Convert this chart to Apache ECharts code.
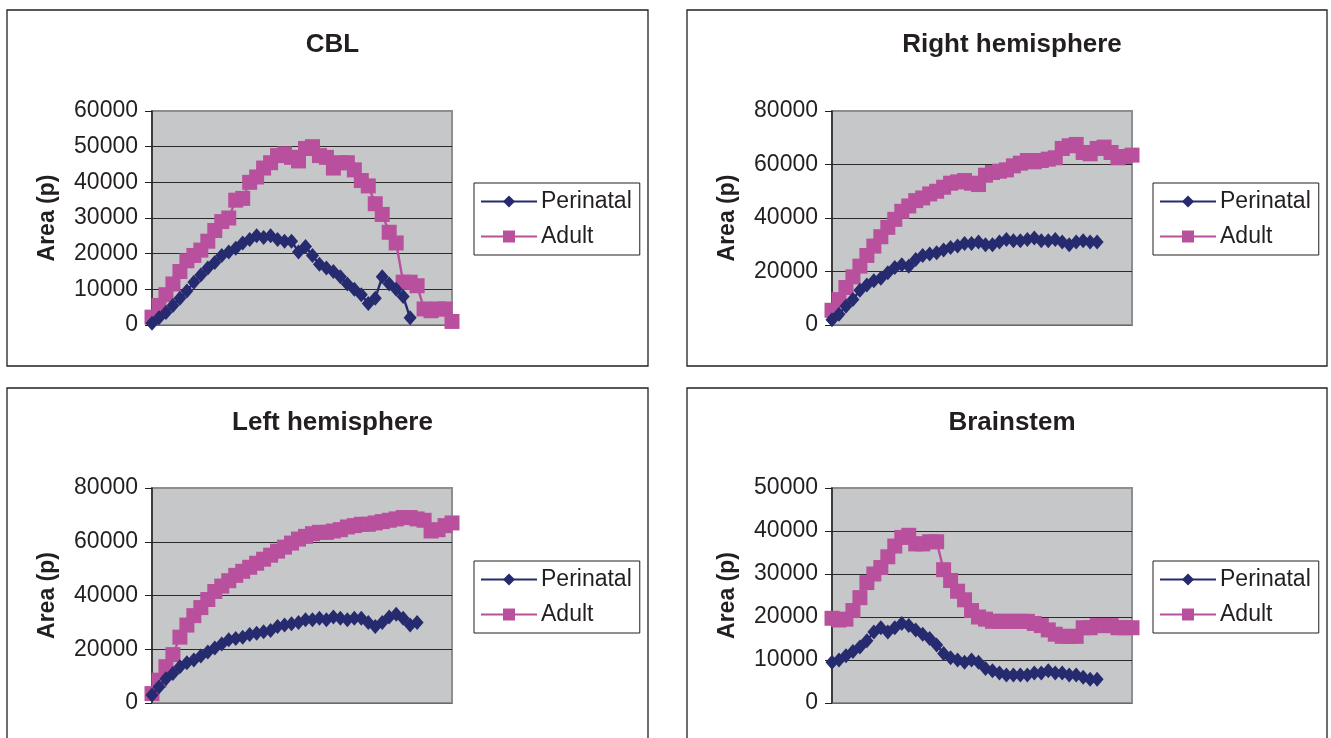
<!DOCTYPE html>
<html>
<head>
<meta charset="utf-8">
<script src="https://cdn.jsdelivr.net/npm/echarts@6/dist/echarts.min.js"></script>
<style>
  html, body { margin: 0; padding: 0; background: #ffffff; }
  #chart { width: 1331px; height: 738px; }
</style>
</head>
<body>
<div id="chart"></div>
<script>
// Slice index along each structure (category axis, labels hidden)
const slices = [1, 2, 3, 4, 5, 6, 7, 8, 9, 10, 11, 12, 13, 14, 15, 16, 17, 18, 19, 20, 21, 22,
  23, 24, 25, 26, 27, 28, 29, 30, 31, 32, 33, 34, 35, 36, 37, 38, 39, 40, 41, 42, 43, 44];

const seriesNames = ['Perinatal', 'Adult'];

// Area (pixels) per slice
const cblPerinatal = [500, 2000, 3500, 5500, 7500, 9500, 12000, 14000, 16000, 17500, 19500, 20500,
  21500, 23000, 24000, 25000, 24500, 25000, 24000, 23500, 23500, 20500, 22000, 19500, 17000, 16000,
  15000, 13500, 11500, 10000, 8500, 6000, 7500, 13500, 11500, 10000, 8000, 2000];
const cblAdult = [2200, 5500, 8500, 11500, 15000, 18000, 19500, 21000, 23500, 26500, 29000, 30000,
  35000, 35500, 40000, 41500, 44000, 45500, 47500, 48000, 47000, 46000, 49500, 50000, 47500, 47000,
  44000, 45500, 45500, 43500, 40500, 39000, 34000, 31000, 26000, 23000, 12000, 12000, 11000, 4500,
  4000, 4500, 4500, 1000];

const rightPerinatal = [2000, 4000, 7000, 9500, 13000, 15000, 16500, 17500, 19500, 21500, 22500,
  22000, 24500, 26000, 26500, 27000, 28000, 29000, 29500, 30500, 30500, 31000, 30000, 30000, 31000,
  32000, 31500, 31500, 32000, 32500, 31500, 31500, 32000, 31000, 30000, 31000, 31500, 31000, 31000];
const rightAdult = [5500, 9500, 14000, 18000, 22000, 26000, 29500, 33000, 36500, 39500, 42500,
  44500, 46500, 47500, 49000, 50000, 51500, 53000, 53500, 54000, 53000, 52500, 56000, 57000, 57500,
  58000, 59500, 60500, 61500, 61000, 61500, 62000, 62500, 66000, 67000, 67500, 64500, 64000, 66000,
  66500, 64500, 62500, 63000, 63500];

const leftPerinatal = [3000, 6000, 9000, 11000, 13500, 15000, 16000, 17500, 19000, 20500, 22000,
  23500, 24000, 24500, 25500, 26000, 26500, 27000, 28500, 29000, 29500, 30000, 31000, 31000, 31500,
  31000, 32000, 31500, 31000, 31500, 31500, 30000, 28500, 30000, 32000, 33000, 31500, 29000, 30000];
const leftAdult = [3500, 8500, 13500, 18000, 24500, 29000, 32500, 35500, 38500, 41500, 43500,
  45500, 47500, 49000, 50500, 52000, 53500, 55000, 56500, 58000, 59500, 61000, 62000, 63000, 63500,
  63500, 64000, 64500, 65500, 66000, 66500, 66500, 67000, 67500, 68000, 68500, 69000, 69000, 68500,
  68000, 64000, 64500, 66000, 67000];

const stemPerinatal = [9500, 10000, 11000, 12000, 13000, 14500, 16500, 17500, 16500, 17500, 18500,
  18000, 17000, 16000, 15000, 13500, 11500, 10500, 10000, 9500, 10000, 9500, 8000, 7500, 7000,
  6500, 6500, 6500, 6500, 7000, 7000, 7500, 7000, 7000, 6500, 6500, 6000, 5500, 5500];
const stemAdult = [19700, 19300, 19500, 21500, 24500, 28000, 30000, 31500, 34000, 36500, 38500,
  39000, 37000, 37000, 37500, 37500, 31000, 28500, 26000, 24000, 21500, 20000, 19500, 19000, 19000,
  19000, 19000, 19000, 19000, 18500, 18000, 17000, 16000, 15500, 15500, 15500, 17500, 17500, 18000,
  18000, 18000, 17500, 17500, 17500];

// Value-axis ranges (tick labels follow from max / step)
const cblAxis = { max: 60000, step: 10000 };
const rightAxis = { max: 80000, step: 20000 };
const leftAxis = { max: 80000, step: 20000 };
const stemAxis = { max: 50000, step: 10000 };

// Page layout for the four panels
const panels = [
  { title: 'CBL', box: [7, 10, 641, 356], grid: [152, 111, 300, 214], legend: [474, 183],
    axis: cblAxis, perinatal: cblPerinatal, adult: cblAdult },
  { title: 'Right hemisphere', box: [687, 10, 640, 356], grid: [832, 111, 300, 214], legend: [1153, 183],
    axis: rightAxis, perinatal: rightPerinatal, adult: rightAdult },
  { title: 'Left hemisphere', box: [7, 388, 641, 360], grid: [152, 488, 300, 215], legend: [474, 561],
    axis: leftAxis, perinatal: leftPerinatal, adult: leftAdult },
  { title: 'Brainstem', box: [687, 388, 640, 360], grid: [832, 488, 300, 215], legend: [1153, 561],
    axis: stemAxis, perinatal: stemPerinatal, adult: stemAdult }
];

const FONT = 'Arial, "Liberation Sans", Helvetica, sans-serif';
const INK = '#231f20';
const NAVY = '#262a6e';
const MAGENTA = '#b8509d';

const option = {
  animation: false,
  backgroundColor: '#ffffff',
  textStyle: { fontFamily: FONT, color: INK },
  graphic: panels.map(p => ({
    type: 'rect',
    shape: { x: p.box[0], y: p.box[1], width: p.box[2], height: p.box[3] },
    style: { fill: 'none', stroke: INK, lineWidth: 1.3 },
    z: 0
  })),
  title: panels.map(p => ({
    text: p.title,
    left: p.box[0] + p.box[2] / 2,
    top: p.box[1] + 17,
    textAlign: 'center',
    textStyle: { fontFamily: FONT, fontSize: 26, fontWeight: 'bold', color: INK }
  })),
  legend: panels.map(p => ({
    data: seriesNames,
    orient: 'vertical',
    left: p.legend[0],
    top: p.legend[1],
    itemWidth: 56,
    itemHeight: 15,
    itemGap: 10,
    padding: [6, 8, 6, 6],
    borderColor: INK,
    borderWidth: 1,
    selectedMode: false,
    textStyle: { fontFamily: FONT, fontSize: 23, color: INK, lineHeight: 25, padding: [0, 0, 0, -1] }
  })),
  grid: panels.map(p => ({
    left: p.grid[0], top: p.grid[1], width: p.grid[2], height: p.grid[3],
    show: true,
    backgroundColor: '#c6c7c9',
    borderColor: '#8e8e8e',
    borderWidth: 2
  })),
  xAxis: panels.map((p, i) => ({
    type: 'category',
    gridIndex: i,
    data: slices,
    boundaryGap: false,
    axisLine: { show: true, lineStyle: { color: '#6a6a6a', width: 1 } },
    axisTick: { show: false },
    axisLabel: { show: false },
    splitLine: { show: false }
  })),
  yAxis: panels.map((p, i) => ({
    type: 'value',
    gridIndex: i,
    min: 0,
    max: p.axis.max,
    interval: p.axis.step,
    name: 'Area (p)',
    nameLocation: 'middle',
    nameRotate: 90,
    nameGap: 93,
    nameTextStyle: { fontFamily: FONT, fontSize: 23, fontWeight: 'bold', color: INK },
    axisLine: { show: true, lineStyle: { color: INK, width: 1.5 } },
    axisTick: { show: true, inside: false, length: 7, lineStyle: { color: INK, width: 1 } },
    axisLabel: { fontFamily: FONT, fontSize: 23, color: INK, margin: 14, formatter: v => String(v) },
    splitLine: { show: true, showMaxLine: false, lineStyle: { color: '#2a2a2a', width: 1 } }
  })),
  series: panels.flatMap((p, i) => [
    {
      name: seriesNames[0], type: 'line', xAxisIndex: i, yAxisIndex: i,
      data: p.perinatal, symbol: 'diamond', symbolSize: [13, 15], showAllSymbol: true,
      itemStyle: { color: NAVY }, lineStyle: { color: NAVY, width: 2.4 }, z: 3
    },
    {
      name: seriesNames[1], type: 'line', xAxisIndex: i, yAxisIndex: i,
      data: p.adult, symbol: 'rect', symbolSize: 15, showAllSymbol: true,
      itemStyle: { color: MAGENTA }, lineStyle: { color: MAGENTA, width: 2.4 }, z: 2
    }
  ])
};

const chart = echarts.init(document.getElementById('chart'), null, { renderer: 'canvas' });
chart.setOption(option);
</script>
</body>
</html>
